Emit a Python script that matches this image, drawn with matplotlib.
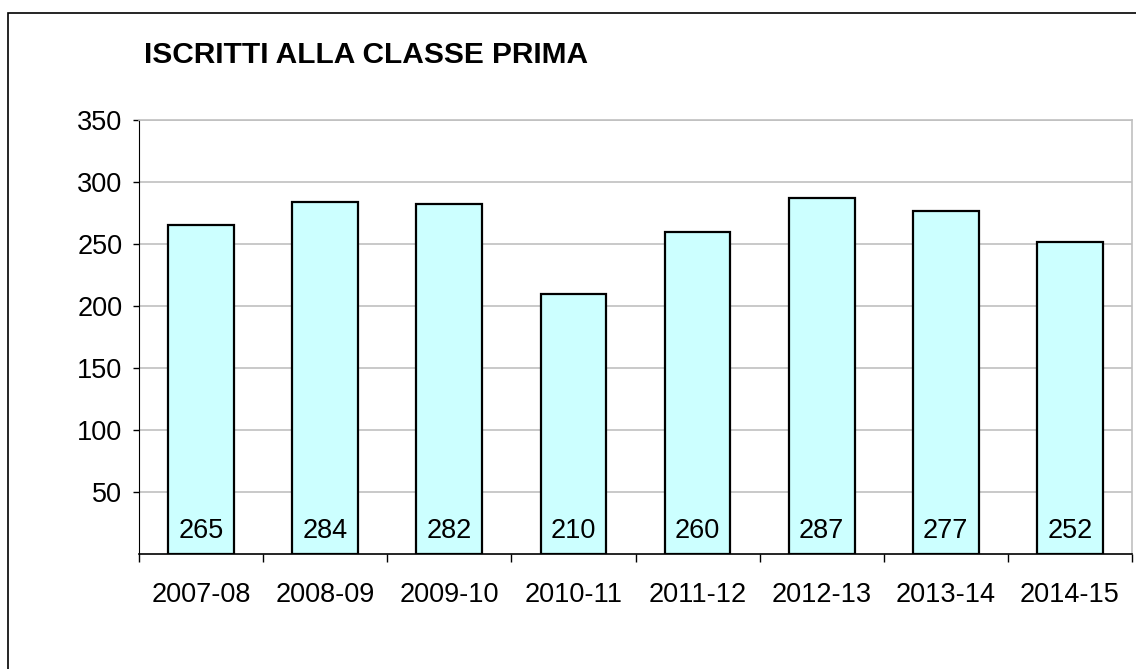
import matplotlib
matplotlib.use("Agg")
import matplotlib.pyplot as plt
from matplotlib.patches import Rectangle

plt.rcParams['font.family'] = ['Liberation Sans', 'DejaVu Sans']

anni = ["2007-08", "2008-09", "2009-10", "2010-11",
        "2011-12", "2012-13", "2013-14", "2014-15"]
iscritti = [265, 284, 282, 210, 260, 287, 277, 252]
y_ticks = [50, 100, 150, 200, 250, 300, 350]

fig = plt.figure(figsize=(11.36, 6.69), dpi=100)
W, H = 1136, 669

# outer chart frame (only left and top edges are inside the picture)
fig.patches.append(Rectangle((8 / W, -0.1), 1.2, 1 - 13 / H + 0.1,
                             transform=fig.transFigure, fill=False,
                             edgecolor="black", linewidth=1.2))

ax = fig.add_axes([139 / W, 1 - 554 / H, (1132 - 139) / W, (554 - 120) / H])

x = range(len(anni))
bars = ax.bar(x, iscritti, width=0.53, color="#CCFFFF",
              edgecolor="black", linewidth=1.6, zorder=3)

for xi, v in zip(x, iscritti):
    ax.annotate(str(v), (xi, 0), xytext=(0, 23), textcoords="offset pixels",
                ha="center", va="center", fontsize=19.5, zorder=4)

ax.set_xlim(-0.5, len(anni) - 0.5)
ax.set_ylim(0, 350)
ax.set_yticks(y_ticks)
ax.set_yticklabels([str(t) for t in y_ticks], fontsize=19.5)
ax.yaxis.grid(True, color="#c0c0c0", linewidth=1.2, zorder=0)

ax.set_xticks([i + 0.5 for i in range(-1, len(anni))])
ax.set_xticklabels([])
ax.set_xticks(list(x), minor=True)
ax.set_xticklabels(anni, minor=True, fontsize=19.5)
ax.tick_params(axis="x", which="major", direction="out", length=6,
               width=1, color="black")
ax.tick_params(axis="x", which="minor", length=0, pad=20)
ax.tick_params(axis="y", direction="out", length=4.5, width=1, pad=7.5)

for side in ["top", "right"]:
    ax.spines[side].set_color("#c0c0c0")
    ax.spines[side].set_linewidth(1.2)
ax.spines["left"].set_color("black")
ax.spines["bottom"].set_color("black")
ax.spines["bottom"].set_linewidth(1.2)

fig.text(144 / W, 1 - 55 / H, "ISCRITTI ALLA CLASSE PRIMA", fontsize=21.5,
         fontweight="bold", ha="left", va="center")

fig.savefig("out.png", dpi=100)
